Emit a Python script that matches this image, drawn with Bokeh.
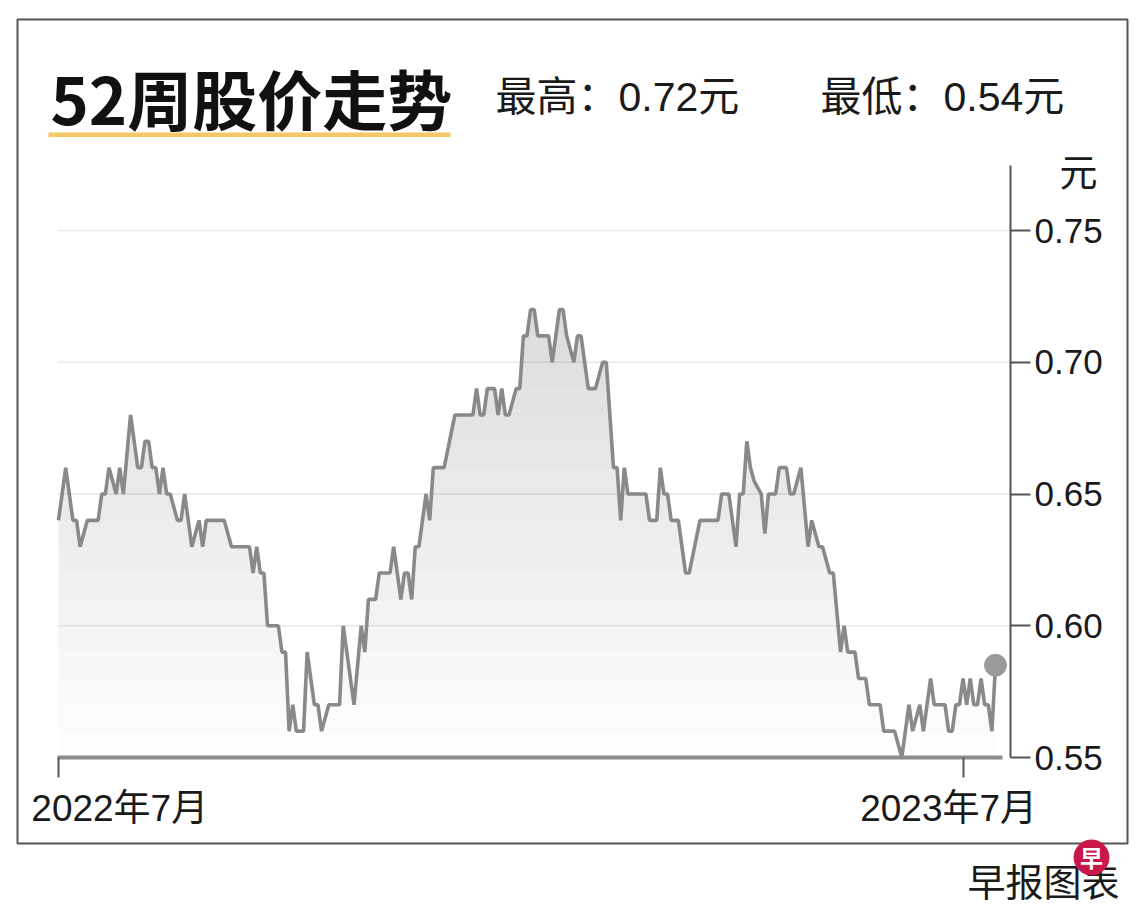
import numpy as np
from bokeh.plotting import figure
from bokeh.models import (Range1d, FixedTicker, LinearAxis, CustomJSTickFormatter,
                          PrintfTickFormatter)
from bokeh.embed import file_html
from bokeh.resources import INLINE
from bokeh.core.properties import value

# trading-day index of each turning point of the 52-week line
day = [0, 2, 4, 5, 6, 8, 11, 12, 13, 14, 16, 17, 18, 20, 22, 23, 24, 25, 26, 27,
       28, 29, 30, 31, 33, 34, 35, 37, 39, 40, 41, 46, 48, 53, 54, 55, 56, 57, 58, 61,
       62, 63, 64, 65, 66, 68, 69, 71, 72, 73, 75, 78, 79, 82, 84, 85, 86, 88, 89, 92,
       93, 95, 96, 97, 98, 99, 100, 102, 103, 104, 107, 110, 115, 116, 117, 118, 119, 121, 122, 123,
       124, 125, 127, 128, 129, 130, 131, 132, 133, 136, 137, 139, 140, 141, 143, 144, 145, 147, 149, 151,
       152, 154, 155, 156, 157, 158, 163, 164, 166, 167, 168, 169, 170, 172, 174, 175, 178, 183, 184, 186,
       188, 189, 190, 191, 192, 193, 195, 196, 197, 199, 200, 202, 203, 204, 206, 208, 209, 211, 212, 214,
       215, 217, 218, 219, 221, 222, 224, 225, 228, 229, 232, 234, 236, 237, 239, 240, 242, 243, 246, 247,
       248, 249, 250, 251, 252, 253, 254, 255, 256, 257, 258, 259, 260]
price = [0.64, 0.66, 0.64, 0.64, 0.63, 0.64, 0.64, 0.65, 0.65, 0.66, 0.65, 0.66, 0.65, 0.68, 0.66, 0.66, 0.67, 0.67, 0.66, 0.66,
         0.65, 0.66, 0.65, 0.65, 0.64, 0.64, 0.65, 0.63, 0.64, 0.63, 0.64, 0.64, 0.63, 0.63, 0.62, 0.63, 0.62, 0.62, 0.60, 0.60,
         0.59, 0.59, 0.56, 0.57, 0.56, 0.56, 0.59, 0.57, 0.57, 0.56, 0.57, 0.57, 0.60, 0.57, 0.60, 0.59, 0.61, 0.61, 0.62, 0.62,
         0.63, 0.61, 0.62, 0.62, 0.61, 0.63, 0.63, 0.65, 0.64, 0.66, 0.66, 0.68, 0.68, 0.69, 0.68, 0.68, 0.69, 0.69, 0.68, 0.69,
         0.68, 0.68, 0.69, 0.69, 0.71, 0.71, 0.72, 0.72, 0.71, 0.71, 0.70, 0.72, 0.72, 0.71, 0.70, 0.71, 0.71, 0.69, 0.69, 0.70,
         0.70, 0.66, 0.66, 0.64, 0.66, 0.65, 0.65, 0.64, 0.64, 0.66, 0.65, 0.65, 0.64, 0.64, 0.62, 0.62, 0.64, 0.64, 0.65, 0.65,
         0.63, 0.65, 0.65, 0.67, 0.66, 0.655, 0.65, 0.635, 0.65, 0.65, 0.66, 0.66, 0.65, 0.65, 0.66, 0.63, 0.64, 0.63, 0.63, 0.62,
         0.62, 0.59, 0.60, 0.59, 0.59, 0.58, 0.58, 0.57, 0.57, 0.56, 0.56, 0.55, 0.57, 0.56, 0.57, 0.56, 0.58, 0.57, 0.57, 0.56,
         0.56, 0.57, 0.57, 0.58, 0.57, 0.58, 0.57, 0.57, 0.58, 0.57, 0.57, 0.56, 0.585]

y_ticks = [0.55, 0.60, 0.65, 0.70, 0.75]
x_tick_days = [0, 251]
x_label_days = [17, 247]
x_labels = ["2022年7月", "2023年7月"]

title_text = "52周股价走势"
high_text = "最高：0.72元"
low_text = "最低：0.54元"
unit_text = "元"
source_text = "早报图表"
logo_text = "早"

LATIN = "Liberation Sans, Noto Sans CJK SC"
CJK = "Noto Sans CJK SC"

W, H = 1140, 908
# page-pixel -> data helpers (layout only)
X0, PXD = 58.0, 3.6038
Y0, PXV = 757.0, 2635.0
def dx(px):
    return (px - X0) / PXD
def vy(py):
    return 0.55 + (Y0 - py) / PXV

p = figure(width=W, height=H,
           x_range=Range1d(dx(0), dx(W)), y_range=Range1d(vy(H), vy(0)),
           x_axis_location=None, y_axis_location=None,
           output_backend="svg", toolbar_location=None,
           min_border=0, min_border_left=0, min_border_right=0,
           min_border_top=0, min_border_bottom=0)
p.outline_line_color = None
p.background_fill_color = "white"
p.border_fill_color = "white"
p.grid.visible = False

# outer frame box and yellow underline
p.quad(left=[dx(17)], right=[dx(1127)], top=[vy(19)], bottom=[vy(843)],
       fill_alpha=0, line_color="#555555", line_width=2)
p.quad(left=[dx(48)], right=[dx(450)], top=[vy(132)], bottom=[vy(136.5)],
       fill_color="#f5c766", line_color=None)

# horizontal gridlines
p.segment(x0=dx(57), x1=dx(1010), y0=y_ticks[1:], y1=y_ticks[1:],
          line_color="#e9e9e9", line_width=1.5)

# gradient-like fill: stacked translucent layers
pr = np.array(price)
for lvl in np.arange(0.55, 0.7201, 0.01):
    p.varea(x=day, y1=float(lvl), y2=np.maximum(pr, lvl), fill_color="#a0a0ac", fill_alpha=0.025)

p.line(day, price, line_color="#898989", line_width=3.6)
p.scatter([day[-1]], [price[-1]], size=22, color="#9a9a9a")

# y axis on the right, at a fixed location
ya = LinearAxis(fixed_location=dx(1010), ticker=FixedTicker(ticks=y_ticks),
                formatter=PrintfTickFormatter(format="%.2f"),
                axis_line_color="#555555", axis_line_width=2,
                major_tick_line_color="#555555", major_tick_line_width=2,
                major_tick_in=0, major_tick_out=20, minor_tick_line_color=None,
                major_label_text_font=LATIN, major_label_text_font_size="35px",
                major_label_text_color="#1a1a1a", major_label_standoff=4,
                bounds=(0.55, vy(165)))
p.add_layout(ya, "right")

# x axis: baseline with tick marks
xa = LinearAxis(fixed_location=0.55, ticker=FixedTicker(ticks=x_tick_days),
                formatter=CustomJSTickFormatter(code="return ''"),
                axis_line_color="#8c8c8c", axis_line_width=4, bounds=(dx(57), dx(1002)),
                major_tick_line_color="#555555", major_tick_line_width=2,
                major_tick_in=0, major_tick_out=20, minor_tick_line_color=None,
                major_label_text_font_size="0px", major_label_standoff=0)
p.add_layout(xa, "below")

# x axis labels
xa2 = LinearAxis(fixed_location=0.55, ticker=FixedTicker(ticks=x_label_days),
                 major_label_overrides={d: t for d, t in zip(x_label_days, x_labels)},
                 axis_line_color=None, major_tick_line_color=None, minor_tick_line_color=None,
                 major_tick_in=0, major_tick_out=0,
                 major_label_text_font=LATIN, major_label_text_font_size="37px",
                 major_label_text_color="#1a1a1a", major_label_standoff=30)
p.add_layout(xa2, "below")

def txt(text, px, py, size, font=LATIN, style="normal", align="left", color="#1a1a1a"):
    p.text(x=[dx(px)], y=[vy(py)], text=[text], text_font=value(font),
           text_font_size=size, text_font_style=style, text_align=align,
           text_baseline="middle", text_color=color)

txt(title_text, 50, 96, "65px", font=CJK, style="bold", color="#111111")
txt(high_text, 495, 96, "41px")
txt(low_text, 820, 96, "41px")
txt(unit_text, 1078, 172, "38px", align="center")
txt(source_text, 967, 879, "38px", font=CJK)
p.scatter([dx(1091)], [vy(857)], size=35, color="#c8174b")
txt(logo_text, 1091, 856, "23px", font=CJK, style="bold", align="center", color="white")

open("out.html", "w").write(file_html(p, INLINE))
